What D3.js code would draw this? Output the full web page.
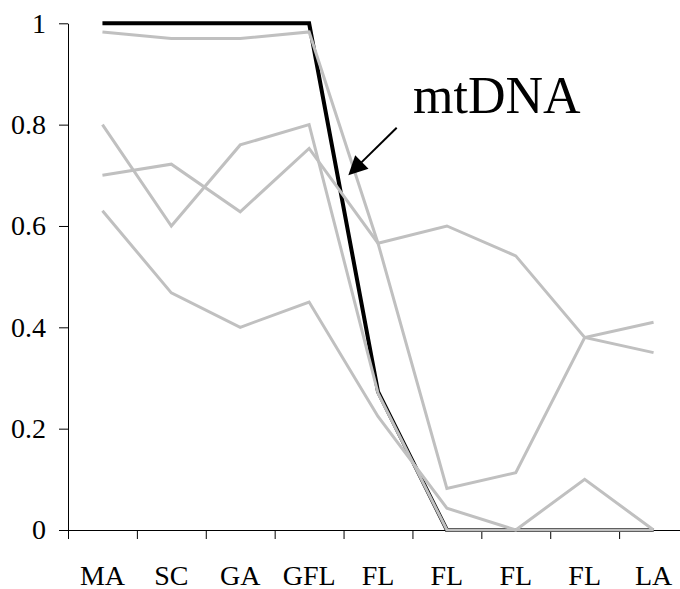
<!DOCTYPE html>
<html>
<head>
<meta charset="utf-8">
<script src="https://cdn.jsdelivr.net/npm/d3@7"></script>
<style>
  html, body { margin: 0; padding: 0; background: #fff; }
  svg { display: block; }
  text { font-family: "Liberation Serif", "Times New Roman", serif; fill: #000; }
</style>
</head>
<body>
<svg id="chart" width="680" height="589"></svg>
<script>
// Population sites along the transect
const categories = ["MA", "SC", "GA", "GFL", "FL", "FL", "FL", "FL", "LA"];

// Frequencies per site
const mtDNA    = [1, 1, 1, 1, 0.273, 0, 0, 0, 0];
const markerA  = [0.983, 0.970, 0.970, 0.983, 0.566, 0.082, 0.113, 0.380, 0.410];
const markerB  = [0.700, 0.722, 0.628, 0.753, 0.566, 0.600, 0.541, 0.380, 0.350];
const markerC  = [0.800, 0.600, 0.760, 0.800, 0.270, 0, 0, 0, 0];
const markerD  = [0.630, 0.468, 0.400, 0.450, 0.224, 0.043, 0, 0.100, 0];

const grayMarkers = [markerA, markerB, markerC, markerD];
const yTicks = [0, 0.2, 0.4, 0.6, 0.8, 1];

const svg = d3.select("#chart");

const plotLeft = 68, plotRight = 688, plotTop = 23.3, plotBottom = 530;

// Category slots: boundaries at integers, points at slot centres
const x = d3.scaleLinear().domain([0, categories.length]).range([plotLeft, plotRight]);
const y = d3.scaleLinear().domain([0, 1]).range([plotBottom, plotTop]);

// Axes
const xAxis = d3.axisBottom(x)
  .tickValues(d3.range(0, categories.length + 1))
  .tickFormat("")
  .tickSize(9)
  .tickSizeOuter(0);

const yAxis = d3.axisLeft(y)
  .tickValues(yTicks)
  .tickFormat(d => String(+d.toFixed(1)))
  .tickSize(9)
  .tickSizeOuter(0)
  .tickPadding(13);

const gx = svg.append("g")
  .attr("transform", `translate(0,${plotBottom})`)
  .call(xAxis);
gx.select(".domain").attr("stroke", "#000").attr("stroke-width", 1);
gx.selectAll(".tick line").attr("stroke", "#000");

const gy = svg.append("g")
  .attr("transform", `translate(${plotLeft},0)`)
  .call(yAxis);
gy.select(".domain").attr("stroke", "#000").attr("stroke-width", 1);
gy.selectAll(".tick line").attr("stroke", "#000");
gy.selectAll(".tick text")
  .attr("font-size", 28)
  .attr("font-family", "Liberation Serif, Times New Roman, serif")
  .attr("fill", "#000");

// Category labels under each slot
svg.append("g")
  .selectAll("text")
  .data(categories)
  .join("text")
  .attr("x", (d, i) => x(i + 0.5))
  .attr("y", plotBottom + 55)
  .attr("text-anchor", "middle")
  .attr("font-size", 28)
  .text(d => d);

const line = d3.line()
  .x((d, i) => x(i + 0.5))
  .y(d => y(d));

// mtDNA cline (drawn underneath)
svg.append("path")
  .datum(mtDNA)
  .attr("d", line)
  .attr("fill", "none")
  .attr("stroke", "#000")
  .attr("stroke-width", 4)
  .attr("stroke-linejoin", "miter");

// Other markers
svg.append("g")
  .selectAll("path")
  .data(grayMarkers)
  .join("path")
  .attr("d", line)
  .attr("fill", "none")
  .attr("stroke", "#c0c0c0")
  .attr("stroke-width", 3)
  .attr("stroke-linejoin", "miter");

// Annotation
svg.append("text")
  .attr("x", 413)
  .attr("y", 113)
  .attr("font-size", 52)
  .text("mtDNA");

const tail = [396.7, 127.7], tip = [348.3, 175.3];
const dx = tip[0] - tail[0], dy = tip[1] - tail[1];
const len = Math.hypot(dx, dy), ux = dx / len, uy = dy / len;
const headLen = 19, headHalf = 9.5;
const base = [tip[0] - ux * headLen, tip[1] - uy * headLen];

svg.append("line")
  .attr("x1", tail[0]).attr("y1", tail[1])
  .attr("x2", base[0] + ux * 2).attr("y2", base[1] + uy * 2)
  .attr("stroke", "#000")
  .attr("stroke-width", 2);

svg.append("polygon")
  .attr("points", [
    tip,
    [base[0] - uy * headHalf, base[1] + ux * headHalf],
    [base[0] + uy * headHalf, base[1] - ux * headHalf]
  ].map(p => p.join(",")).join(" "))
  .attr("fill", "#000");
</script>
</body>
</html>
